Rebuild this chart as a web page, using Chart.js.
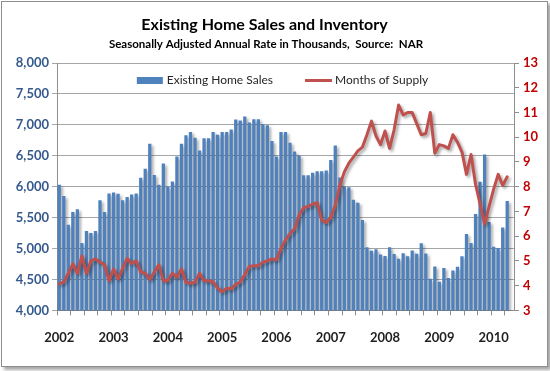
<!DOCTYPE html>
<html>
<head>
<meta charset="utf-8">
<script src="https://cdn.jsdelivr.net/npm/chart.js@4.4.1/dist/chart.umd.min.js"></script>
<style>
   html, body { margin: 0; padding: 0; background: #fff; }
   #frame {
      position: absolute; left: 1px; top: 1px;
      width: 545px; height: 364px;
      border: 1px solid #8e8e8e;
      box-shadow: 3px 3px 3px rgba(0, 0, 0, 0.35);
      background: #fff;
   }
   canvas { display: block; }
</style>
</head>
<body>
<div id="frame"><canvas id="myChart" width="545" height="364"></canvas></div>
<script>
const titleText = 'Existing Home Sales and Inventory';
const subtitleText = 'Seasonally Adjusted Annual Rate in Thousands,  Source:  NAR';

// x axis: one category per month, Jan 2002 .. May 2010 (last one left empty)
const years = ['2002', '2003', '2004', '2005', '2006', '2007', '2008', '2009', '2010'];
const monthNames = ['Jan', 'Feb', 'Mar', 'Apr', 'May', 'Jun', 'Jul', 'Aug', 'Sep', 'Oct', 'Nov', 'Dec'];
const months = [];
years.forEach((y) => monthNames.forEach((m) => months.push(m + ' ' + y)));
months.length = 101;

// Existing home sales, SAAR, thousands
const homeSales = [
   6030, 5850, 5385, 5590, 5635, 5090, 5285, 5250, 5285, 5780, 5590, 5890,
   5905, 5885, 5780, 5835, 5875, 5890, 6145, 6290, 6695, 6190, 6030, 6375,
   6000, 6085, 6490, 6695, 6830, 6885, 6790, 6585, 6785, 6785, 6885, 6840,
   6885, 6885, 6925, 7085, 7070, 7135, 7040, 7090, 7090, 7010, 6995, 6740,
   6490, 6885, 6885, 6710, 6570, 6505, 6185, 6185, 6225, 6250, 6250, 6260,
   6430, 6665, 6150, 6000, 5990, 5790, 5740, 5460, 5020, 4965, 4990, 4905,
   4880, 5020, 4910, 4835, 4925, 4875, 4970, 4915, 5085, 4920, 4510, 4710,
   4465, 4685, 4525, 4645, 4705, 4875, 5235, 5090, 5560, 6080, 6520, 5430,
   5030, 5010, 5340, 5770,
];

// Months of supply
const monthsOfSupply = [
   4.07, 4.15, 4.5, 4.88, 4.5, 5.2, 4.5, 5.0, 5.08, 4.95, 4.85, 4.2,
   4.67, 4.27, 4.7, 5.1, 4.9, 5.0, 4.55, 4.5, 4.25, 4.55, 4.84, 4.2,
   4.2, 4.5, 4.35, 4.67, 4.14, 4.1, 4.14, 4.5, 4.2, 4.2, 4.15, 3.9,
   3.75, 3.9, 3.87, 4.05, 4.15, 4.45, 4.78, 4.8, 4.8, 4.95, 5.0, 5.08,
   5.05, 5.5, 5.85, 6.1, 6.3, 6.85, 7.15, 7.2, 7.3, 7.35, 6.65, 6.55,
   6.75, 7.25, 8.05, 8.6, 8.95, 9.2, 9.45, 9.6, 10.1, 10.65, 10.05, 9.7,
   10.25, 9.55, 10.3, 11.3, 10.9, 11.0, 11.0, 10.55, 10.1, 10.15, 11.0, 9.35,
   9.7, 9.65, 9.55, 10.1, 9.8, 9.4, 8.5, 9.3, 8.1, 7.3, 6.5, 7.2,
   7.9, 8.5, 8.05, 8.4,
];

const FONT = 'Lato';

// excel-ish drop shadow under bars and line
const shadowPlugin = {
   id: 'dropShadow',
   beforeDatasetDraw(chart) {
      const c = chart.ctx;
      c.save();
      c.shadowColor = 'rgba(0, 0, 0, 0.35)';
      c.shadowBlur = 3;
      c.shadowOffsetX = 2;
      c.shadowOffsetY = 2;
   },
   afterDatasetDraw(chart) {
      chart.ctx.restore();
   },
};

// title block, centred a little left of the canvas middle like the original
const heading = {
   id: 'heading',
   afterDraw(chart) {
      const c = chart.ctx;
      c.save();
      c.fillStyle = '#000';
      c.textAlign = 'center';
      c.textBaseline = 'middle';
      c.font = 'bold 16px ' + FONT;
      c.fillText(titleText, 262.5, 23);
      c.font = 'bold 11.5px ' + FONT;
      c.fillText(subtitleText, 264, 42.5);
      c.restore();
   },
};

// legend drawn inside the plot area, bar swatch + line swatch
const insideLegend = {
   id: 'insideLegend',
   afterDatasetsDraw(chart) {
      const { ctx, chartArea } = chart;
      const line = chart.data.datasets[0];
      const bars = chart.data.datasets[1];
      ctx.save();
      ctx.font = '12px ' + FONT;
      ctx.textBaseline = 'middle';
      const w1 = ctx.measureText(bars.label).width;
      const w2 = ctx.measureText(line.label).width;
      const total = 26 + 4 + w1 + 32 + 27 + 3 + w2;
      let x = (chartArea.left + chartArea.right) / 2 - total / 2 - 3;
      const y = chartArea.top + 17.5;

      ctx.fillStyle = bars.backgroundColor;
      ctx.fillRect(x, y - 3.5, 26, 7);
      x += 30;
      ctx.fillStyle = '#262626';
      ctx.fillText(bars.label, x, y);
      x += w1 + 32;

      ctx.strokeStyle = line.borderColor;
      ctx.lineWidth = 3;
      ctx.beginPath();
      ctx.moveTo(x, y);
      ctx.lineTo(x + 27, y);
      ctx.stroke();
      x += 30;
      ctx.fillText(line.label, x, y);
      ctx.restore();
   },
};

const ctx = document.getElementById('myChart').getContext('2d');

new Chart(ctx, {
   type: 'bar',
   data: {
      labels: months,
      datasets: [
         {
            type: 'line',
            label: 'Months of Supply',
            data: monthsOfSupply,
            yAxisID: 'y1',
            borderColor: '#C0504D',
            borderWidth: 3,
            pointRadius: 0,
            tension: 0,
            borderJoinStyle: 'round',
            borderCapStyle: 'round',
            order: 0,
         },
         {
            label: 'Existing Home Sales',
            data: homeSales,
            yAxisID: 'y',
            backgroundColor: '#4F81BD',
            categoryPercentage: 0.72,
            barPercentage: 1,
            order: 1,
         },
      ],
   },
   options: {
      responsive: false,
      animation: false,
      layout: { padding: { left: 0, right: 0, top: 61, bottom: 5 } },
      plugins: {
         legend: { display: false },
         tooltip: { enabled: false },
      },
      scales: {
         x: {
            offset: true,
            grid: {
               offset: true,
               drawOnChartArea: false,
               tickLength: 5,
               color: (c) => (c.index % 3 === 0 ? '#8e8e8e' : 'rgba(0,0,0,0)'),
            },
            border: { color: '#8e8e8e' },
            ticks: {
               autoSkip: false,
               maxRotation: 0,
               minRotation: 0,
               padding: 15,
               color: '#1f1f1f',
               font: { family: FONT, size: 13, weight: 'bold' },
               callback: (v, i) => (i % 12 === 0 ? months[i].slice(-4) : ''),
            },
         },
         y: {
            position: 'left',
            min: 4000,
            max: 8000,
            grid: { color: '#a6a6a6', tickLength: 5 },
            border: { color: '#8e8e8e' },
            ticks: {
               stepSize: 500,
               padding: 3,
               color: '#35598c',
               font: { family: FONT, size: 13, weight: 'bold' },
               callback: (v) => v.toLocaleString('en-US'),
            },
            afterFit: (s) => { s.width = 55; },
         },
         y1: {
            position: 'right',
            min: 3,
            max: 13,
            grid: { drawOnChartArea: false, tickLength: 5, color: '#8e8e8e' },
            border: { color: '#8e8e8e' },
            ticks: {
               stepSize: 1,
               padding: 4,
               color: '#c00000',
               font: { family: FONT, size: 13, weight: 'bold' },
            },
            afterFit: (s) => { s.width = 33; },
         },
      },
   },
   plugins: [shadowPlugin, heading, insideLegend],
});
</script>
</body>
</html>
